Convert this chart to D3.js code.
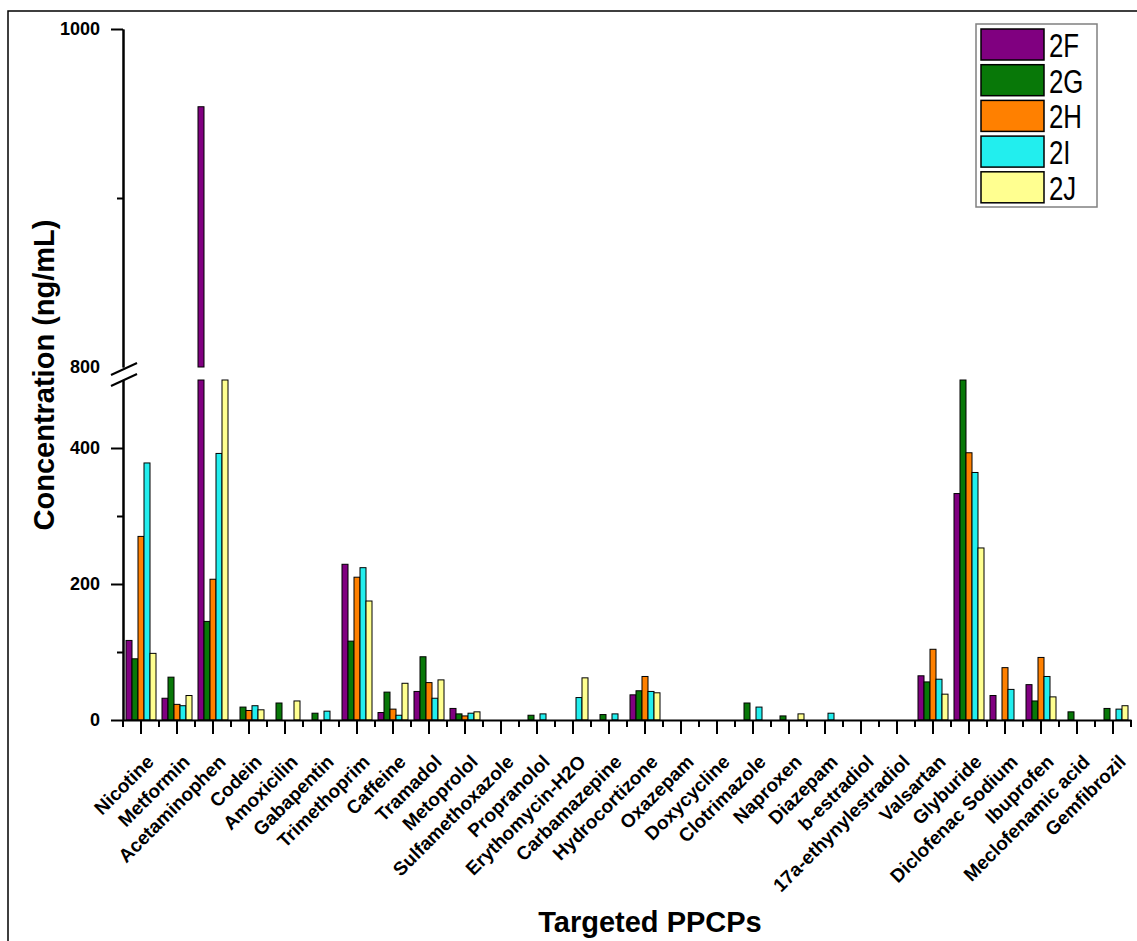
<!DOCTYPE html>
<html>
<head>
<meta charset="utf-8">
<script src="https://cdn.jsdelivr.net/npm/d3@7/dist/d3.min.js"></script>
<style>
body { margin: 0; background: #fff; }
text { font-family: "Liberation Sans", Arial, sans-serif; }
</style>
</head>
<body>
<script>
var categories = ['Nicotine', 'Metformin', 'Acetaminophen', 'Codein', 'Amoxicilin', 'Gabapentin',
    'Trimethoprim', 'Caffeine', 'Tramadol', 'Metoprolol', 'Sulfamethoxazole', 'Propranolol',
    'Erythomycin-H2O', 'Carbamazepine', 'Hydrocortizone', 'Oxazepam', 'Doxycycline', 'Clotrimazole',
    'Naproxen', 'Diazepam', 'b-estradiol', '17a-ethynylestradiol', 'Valsartan', 'Glyburide',
    'Diclofenac Sodium', 'Ibuprofen', 'Meclofenamic acid', 'Gemfibrozil']
var seriesNames = ['2F', '2G', '2H', '2I', '2J']
var seriesColors = ['#800080', '#087808', '#ff8000', '#22eeee', '#ffff90']

var s2F = [117, 32, 954, 0, 0, 0, 229, 11, 42, 17, 0, 0, 0, 0, 37, 0, 0, 0, 0, 0, 0, 0, 65, 333, 36, 52, 0, 0]
var s2G = [90, 63, 145, 19, 25, 10, 116, 41, 93, 9, 0, 7, 0, 8, 43, 0, 0, 25, 6, 0, 0, 0, 56, 650, 0, 28, 12, 17]
var s2H = [270, 23, 207, 14, 0, 0, 210, 16, 55, 6, 0, 0, 0, 0, 64, 0, 0, 0, 0, 0, 0, 0, 104, 393, 77, 92, 0, 0]
var s2I = [378, 21, 392, 21, 0, 13, 224, 7, 32, 10, 0, 9, 33, 9, 42, 0, 0, 19, 0, 10, 0, 0, 60, 364, 45, 64, 0, 16]
var s2J = [98, 36, 700, 15, 28, 0, 175, 54, 59, 12, 0, 0, 62, 0, 40, 0, 0, 0, 9, 0, 0, 0, 38, 253, 0, 34, 0, 21]

var lowTicks = [0, 200, 400]
var lowMinor = [100, 300]
var highTicks = [1000]
var highMinor = [900]

var allSeries = [s2F, s2G, s2H, s2I, s2J]

var svg = d3.select('body').append('svg')
    .attr('width', 1137)
    .attr('height', 941)

// outer frame (runs off the right and bottom edge)
svg.append('rect')
    .attr('x', 8).attr('y', 11)
    .attr('width', 1200).attr('height', 1000)
    .attr('fill', 'none')
    .attr('stroke', '#000')
    .attr('stroke-width', 1.5)

var x = d3.scaleBand().domain(categories).range([123, 1131])
var xs = d3.scaleBand().domain(seriesNames).range([3, 33])
var yLow = d3.scaleLinear().domain([0, 500]).range([720, 380])
var yHigh = d3.scaleLinear().domain([800, 1000]).range([367, 29])

var bars = []
for (var s = 0; s < allSeries.length; s++) {
    for (var i = 0; i < categories.length; i++) {
        if (allSeries[s][i] > 0) {
            bars.push({cat: categories[i], name: seriesNames[s], color: seriesColors[s], v: allSeries[s][i]})
        }
    }
}

svg.append('g').selectAll('rect.low').data(bars).enter()
    .append('rect')
    .attr('class', 'low')
    .attr('x', function(d){ return x(d.cat) + xs(d.name) })
    .attr('width', xs.bandwidth())
    .attr('y', function(d){ return yLow(Math.min(d.v, 500)) })
    .attr('height', function(d){ return yLow(0) - yLow(Math.min(d.v, 500)) })
    .attr('fill', function(d){ return d.color })
    .attr('stroke', '#000')
    .attr('stroke-width', 1)

svg.append('g').selectAll('rect.high').data(bars.filter(function(d){ return d.v > 800 })).enter()
    .append('rect')
    .attr('class', 'high')
    .attr('x', function(d){ return x(d.cat) + xs(d.name) })
    .attr('width', xs.bandwidth())
    .attr('y', function(d){ return yHigh(d.v) })
    .attr('height', function(d){ return yHigh(800) - yHigh(d.v) })
    .attr('fill', function(d){ return d.color })
    .attr('stroke', '#000')
    .attr('stroke-width', 1)

function styleAxis(g, size){
    g.attr('font-family', '"Liberation Sans", Arial, sans-serif')
    g.selectAll('.domain').attr('stroke-width', 2)
    g.selectAll('.tick line').attr('stroke-width', 2)
    g.selectAll('.tick text')
        .attr('font-size', size)
        .attr('font-weight', 'bold')
        .attr('fill', '#000')
}

// x axis
var gx = svg.append('g').attr('transform', 'translate(0,720)')
    .call(d3.axisBottom(x).tickSize(14).tickSizeOuter(0))
styleAxis(gx, 19)
gx.selectAll('.tick text')
    .attr('x', 0).attr('y', 0).attr('dy', 0)
    .attr('text-anchor', 'end')
    .attr('transform', 'translate(14,43) rotate(-45)')

var edges = categories.map(function(c){ return x(c) })
edges.push(x.range()[1])
gx.selectAll('line.minor').data(edges).enter()
    .append('line')
    .attr('class', 'minor')
    .attr('x1', function(d){ return d }).attr('x2', function(d){ return d })
    .attr('y1', 0).attr('y2', 7)
    .attr('stroke', '#000').attr('stroke-width', 2)

// y axis, lower part
var gyl = svg.append('g').attr('transform', 'translate(123,0)')
    .call(d3.axisLeft(yLow).tickValues(lowTicks).tickFormat(d3.format('d')).tickSize(12).tickPadding(11).tickSizeOuter(0))
styleAxis(gyl, 18)
var gylm = svg.append('g').attr('transform', 'translate(123,0)')
    .call(d3.axisLeft(yLow).tickValues(lowMinor).tickSize(6).tickFormat('').tickSizeOuter(0))
styleAxis(gylm, 18)

// y axis, upper part
var gyh = svg.append('g').attr('transform', 'translate(123,0)')
    .call(d3.axisLeft(yHigh).tickValues(highTicks).tickFormat(d3.format('d')).tickSize(12).tickPadding(11).tickSizeOuter(0))
styleAxis(gyh, 18)
var gyhm = svg.append('g').attr('transform', 'translate(123,0)')
    .call(d3.axisLeft(yHigh).tickValues(highMinor).tickSize(6).tickFormat('').tickSizeOuter(0))
styleAxis(gyhm, 18)

svg.append('text')
    .attr('x', 100).attr('y', yHigh(800))
    .attr('dy', '0.32em')
    .attr('text-anchor', 'end')
    .attr('font-size', 18).attr('font-weight', 'bold')
    .text('800')

// axis break marks
var breaks = [[375, 363], [386, 374]]
svg.selectAll('line.brk').data(breaks).enter()
    .append('line')
    .attr('class', 'brk')
    .attr('x1', 111).attr('x2', 137)
    .attr('y1', function(d){ return d[0] })
    .attr('y2', function(d){ return d[1] })
    .attr('stroke', '#000').attr('stroke-width', 2)

// titles
svg.append('text')
    .attr('transform', 'translate(44,375) rotate(-90)')
    .attr('text-anchor', 'middle')
    .attr('dy', '0.35em')
    .attr('font-size', 29).attr('font-weight', 'bold')
    .text('Concentration (ng/mL)')

svg.append('text')
    .attr('x', 650).attr('y', 932)
    .attr('text-anchor', 'middle')
    .attr('font-size', 29).attr('font-weight', 'bold')
    .text('Targeted PPCPs')

// legend
var legend = svg.append('g').attr('transform', 'translate(976,24)')
legend.append('rect')
    .attr('width', 121).attr('height', 183)
    .attr('fill', '#fff')
    .attr('stroke', '#808080').attr('stroke-width', 1.5)

var items = legend.selectAll('g.item').data(seriesNames).enter()
    .append('g')
    .attr('class', 'item')
    .attr('transform', function(d, i){ return 'translate(0,' + (5 + i * 35.7) + ')' })
items.append('rect')
    .attr('x', 5).attr('width', 63).attr('height', 31)
    .attr('fill', function(d, i){ return seriesColors[i] })
    .attr('stroke', '#000').attr('stroke-width', 1.5)
items.append('text')
    .attr('transform', 'translate(73,28) scale(0.76,1)')
    .attr('font-size', 34)
    .text(function(d){ return d })
</script>
</body>
</html>
